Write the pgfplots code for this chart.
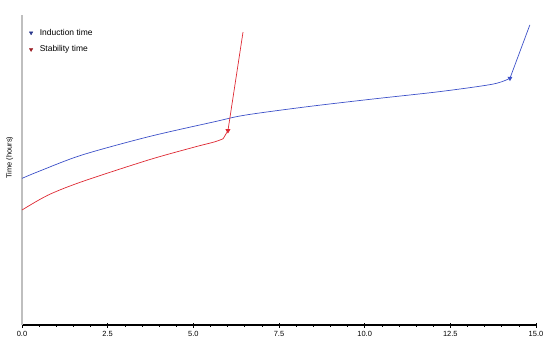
\documentclass[border=0pt]{standalone}
\usepackage{fontspec}
\setmainfont{Liberation Sans}
\usepackage{pgfplots}
\pgfplotsset{compat=1.18}
\definecolor{cblue}{RGB}{60,80,200}
\definecolor{cred}{RGB}{222,40,50}
\begin{document}
\begin{tikzpicture}[x=1bp,y=1bp]
\begin{axis}[
  at={(22bp,13bp)}, anchor=south west,
  scale only axis, width=514bp, height=310bp,
  xmin=0, xmax=15, ymin=0, ymax=100,
  clip=false,
  axis x line*=bottom, axis y line*=left,
  every outer x axis line/.append style={black, line width=1.3pt, -},
  every outer y axis line/.append style={gray!50, line width=2.8pt, -},
  xtick={0,2.5,5,7.5,10,12.5,15}, minor x tick num=4, ytick=\empty,
  xticklabel style={/pgf/number format/.cd, fixed, fixed zerofill, precision=1},
  /pgf/number format/assume math mode=true,
  tick label style={font=\fontsize{7.5}{8}\selectfont},
  tick align=center, major tick length=5bp, minor tick length=3bp,
  major tick style={black, line width=0.8pt},
  minor tick style={black, line width=0.5pt},
  ylabel={Time (hours)},
  ylabel style={font=\fontsize{7.5}{8}\selectfont, at={(axis description cs:-0.024,0.54)}, anchor=center},
  legend style={at={(axis description cs:0.012,0.965)}, anchor=north west, draw=none, fill=none,
    font=\fontsize{8.5}{9}\selectfont, row sep=5bp, inner sep=1bp,
    /tikz/every odd column/.append style={column sep=5bp}},
  legend cell align=left,
]
\addlegendimage{only marks, mark=triangle*, cblue!70!black, mark size=2pt, mark options={rotate=180}}
\addlegendentry{Induction time}
\addlegendimage{only marks, mark=triangle*, cred!70!black, mark size=2pt, mark options={rotate=180}}
\addlegendentry{Stability time}
\addplot[cblue, line width=0.7pt, smooth, forget plot] coordinates {
(0,47.3) (0.5,49.6) (1.74,54.8) (3.68,60.7) (5.63,65.6) (6.51,67.7) (8.31,70.4) (10.24,72.9) (12.2,75.3) (13.74,77.7) (14.24,79.6)};
\addplot[cblue, line width=0.7pt, mark=triangle*, mark size=2.2pt, mark options={rotate=180}, mark indices={1}, forget plot] coordinates {
(14.24,79.6) (14.82,96.8)};
\addplot[cred, line width=0.7pt, smooth, forget plot] coordinates {
(0,37.1) (0.76,41.9) (1.74,46.2) (3.68,53.2) (5.0,57.3) (5.63,59.1) (5.87,60.1)};
\addplot[cred, line width=0.7pt, mark=triangle*, mark size=2.2pt, mark options={rotate=180}, mark indices={2}, forget plot] coordinates {
(5.87,60.1) (6.01,62.7) (6.45,94.5)};
\end{axis}
\pgfresetboundingbox
\path[use as bounding box] (0,0) rectangle (548,338);
\end{tikzpicture}
\end{document}
